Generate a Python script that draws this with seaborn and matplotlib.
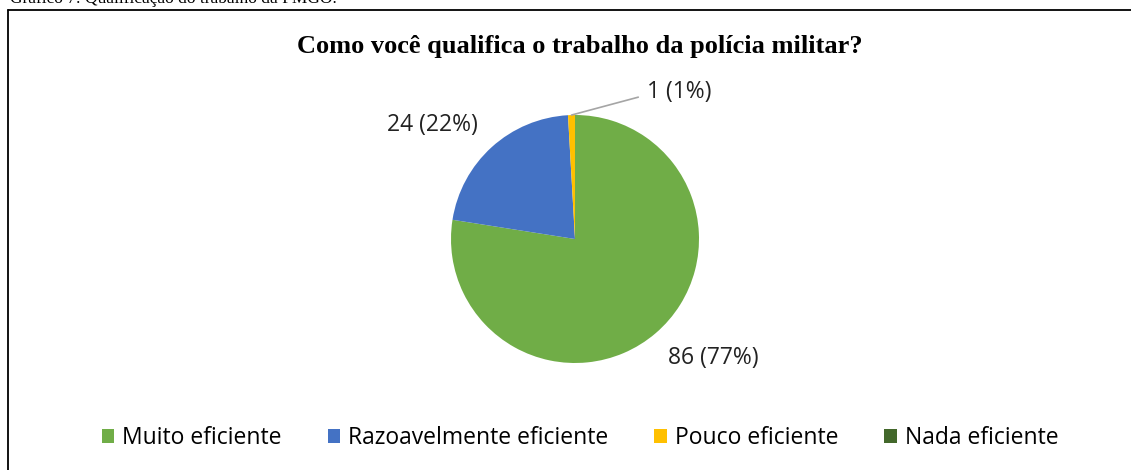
import matplotlib.pyplot as plt
import seaborn as sns
import numpy as np
from matplotlib.lines import Line2D

categorias = ["Muito eficiente", "Razoavelmente eficiente", "Pouco eficiente", "Nada eficiente"]
respostas = [86, 24, 1, 0]
cores = ["#70AD47", "#4472C4", "#FFC000", "#43682B"]
titulo = "Como você qualifica o trabalho da polícia militar?"
legenda_fig = "Gráfico 7: Qualificação do trabalho da PMGO."

sns.set_theme(style="white")
plt.rcParams["font.family"] = ["Open Sans", "DejaVu Sans"]
plt.rcParams["text.color"] = "black"

fig = plt.figure(figsize=(11.31, 4.70), dpi=100)
ax = fig.add_axes([0, 0, 1, 1])

wedges, _ = ax.pie(
    respostas,
    colors=cores,
    startangle=90,
    counterclock=False,
    radius=1,
    wedgeprops=dict(linewidth=0)
)

# 1 unit = 124 px, pie centre at pixel (575, 239)
ax.set_xlim(-575 / 124, (1131 - 575) / 124)
ax.set_ylim(-(470 - 239) / 124, 239 / 124)
ax.set_aspect("equal", adjustable="datalim")
ax.axis("off")

total = sum(respostas)
rotulos = [f"{v} ({round(100 * v / total)}%)" for v in respostas]

# green label (outside end, lower right)
ax.text(0.75, -0.96, rotulos[0], ha="left", va="center", fontsize=16.5, color="#222222")

# blue label
ax.text(-0.78, 0.92, rotulos[1], ha="right", va="center", fontsize=16.5, color="#222222")

# yellow label with leader line
w = wedges[2]
ang = np.deg2rad((w.theta1 + w.theta2) / 2)
x0, y0 = np.cos(ang), np.sin(ang)
ax.annotate(
    rotulos[2],
    xy=(x0, y0),
    xytext=(0.58, 1.185),
    ha="left", va="center", fontsize=16.5, color="#222222",
    arrowprops=dict(arrowstyle="-", color="#A5A5A5", lw=1.2,
                    connectionstyle="angle,angleA=0,angleB=15,rad=0",
                    shrinkA=4, shrinkB=0)
)

fig.text(580 / 1131, 1 - 47 / 470, titulo, ha="center", va="center",
         fontsize=19, fontweight="bold", family="Liberation Serif")

fig.legend(
    wedges, categorias,
    loc="center", bbox_to_anchor=(580 / 1131, 1 - 438 / 470),
    ncol=4, frameon=False, fontsize=16.5,
    handlelength=0.55, handleheight=0.55, handletextpad=0.35,
    columnspacing=2.0
)

# outer frame of the figure box
fig.add_artist(Line2D([8 / 1131, 8 / 1131], [0, 1 - 10 / 470], color="black", lw=1.3))
fig.add_artist(Line2D([8 / 1131, 1], [1 - 10 / 470, 1 - 10 / 470], color="black", lw=1.3))

# caption cut off at the top of the page image
fig.text(10 / 1131, 1 - 3 / 470, legenda_fig, ha="left", va="baseline",
         fontsize=12.5, family="Liberation Serif")

fig.savefig("out.png", dpi=100)
plt.close()
